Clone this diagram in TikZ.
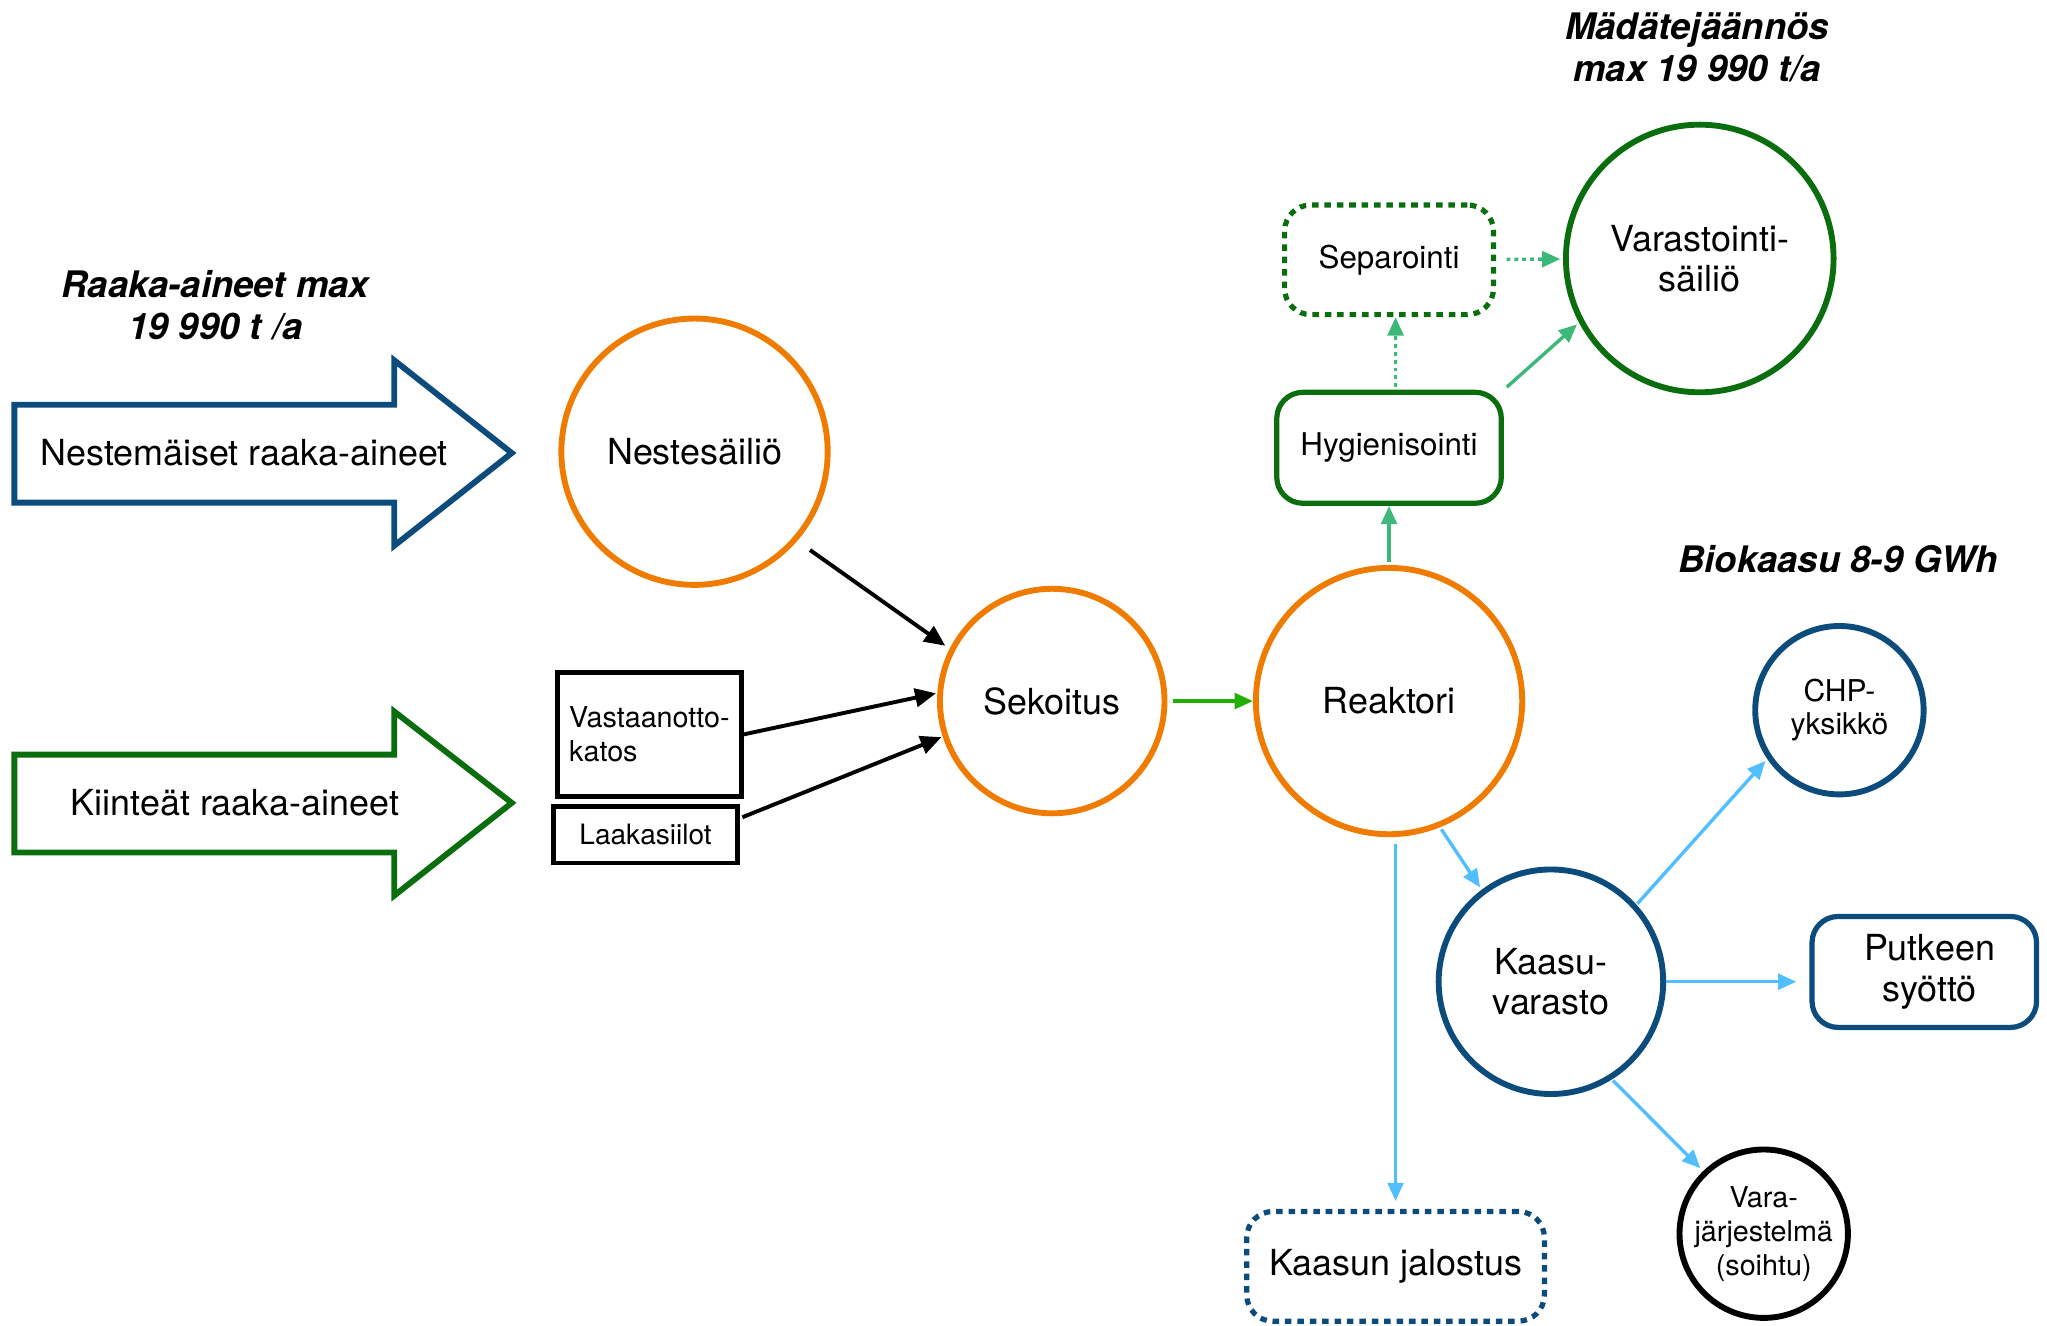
\documentclass[tikz,border=0pt]{standalone}
\usepackage{fontspec}
\setmainfont{TeX Gyre Heros}
\usetikzlibrary{arrows.meta,calc}
\definecolor{orng}{RGB}{239,124,0}
\definecolor{dblue}{RGB}{12,76,125}
\definecolor{dgreen}{RGB}{10,110,15}
\definecolor{bgreen}{RGB}{34,176,0}
\definecolor{mgreen}{RGB}{60,184,120}
\definecolor{lblue}{RGB}{80,190,255}
\begin{document}
\begin{tikzpicture}[x=1pt,y=-1pt,
  big/.style={font=\fontsize{27.5}{31}\selectfont},
  small/.style={font=\fontsize{23}{26}\selectfont},
  ttl/.style={font=\fontsize{28}{32}\selectfont\bfseries\itshape, align=center},
  circ/.style={circle, line width=4.5pt, inner sep=0pt, align=center, big},
  rbox/.style={rectangle, rounded corners=20pt, line width=4pt, align=center, inner sep=0pt, big},
  sbox/.style={rectangle, draw=black, line width=3.6pt, inner sep=0pt, small},
  dotb/.style={dash pattern=on 5pt off 4.5pt},
  blk/.style={line width=3pt, -{Triangle[length=16pt,width=14pt]}},
  carr/.style={line width=2.6pt, -{Triangle[length=14pt,width=12pt]}},
  garr/.style={carr, draw=bgreen, -{Triangle[length=14pt,width=12pt,fill=bgreen]}},
  marr/.style={carr, draw=mgreen},
  barr/.style={carr, draw=lblue},
  dotl/.style={dash pattern=on 3pt off 3pt}
]
\useasboundingbox (0,0) rectangle (1568,1015);

% big input arrows
\draw[dblue, line width=4.5pt, line join=miter]
  (11,310) -- (302,310) -- (302,276) -- (392,347) -- (302,418) -- (302,385) -- (11,385) -- cycle;
\node[big] (nestetxt) at (187,347) {Nestemäiset raaka-aineet};
\draw[dgreen, line width=4.5pt, line join=miter]
  (11,578) -- (302,578) -- (302,545) -- (392,615) -- (302,686) -- (302,653) -- (11,653) -- cycle;
\node[big] (kiintxt) at (180,615) {Kiinteät raaka-aineet};

% titles
\node[ttl] (t1) at (165,234) {Raaka-aineet max\\19 990 t /a};
\node[ttl] (t2) at (1300,36) {Mädätejäännös\\max 19 990 t/a};
\node[ttl] (t3) at (1408,428) {Biokaasu 8-9 GWh};

% circles
\node[circ, draw=orng, minimum size=204pt] (nest) at (532,346) {Nestesäiliö};
\node[circ, draw=orng, minimum size=172pt] (sek) at (806,537) {Sekoitus};
\node[circ, draw=orng, minimum size=204pt] (reak) at (1064,537) {Reaktori};
\node[circ, draw=dgreen, minimum size=205pt] (var) at (1302,198) {Varastointi-\\säiliö};
\node[circ, draw=dblue, minimum size=129pt, font=\fontsize{23}{25.5}\selectfont] (chp) at (1409,544) {CHP-\\yksikkö};
\node[circ, draw=dblue, minimum size=172pt] (kaasu) at (1188,752) {Kaasu-\\varasto};
\node[circ, draw=black, minimum size=129pt, font=\fontsize{22}{26}\selectfont] (vara) at (1351,945) {Vara-\\järjestelmä\\(soihtu)};

% boxes
\node[rbox, draw=dgreen, dotb, minimum width=160pt, minimum height=84pt, font=\fontsize{24}{28}\selectfont] (sep) at (1064,199) {Separointi};
\node[rbox, draw=dgreen, minimum width=172pt, minimum height=85pt, font=\fontsize{24}{28}\selectfont] (hyg) at (1064,343) {Hygienisointi};
\node[sbox, minimum width=141pt, minimum height=95pt, text width=123pt, inner xsep=9pt, align=left, font=\fontsize{22}{26}\selectfont] (vast) at (497.5,562.5) {Vastaanotto-\\katos};
\node[sbox, minimum width=141pt, minimum height=43pt, font=\fontsize{21.5}{26}\selectfont] (laak) at (494.5,639.5) {Laakasiilot};
\node[rbox, draw=dblue, minimum width=172pt, minimum height=85pt] (putk) at (1474,744.5) {\hspace*{8pt}Putkeen\\\hspace*{8pt}syöttö};
\node[rbox, draw=dblue, dotb, minimum width=228pt, minimum height=84pt] (jal) at (1069,970) {Kaasun jalostus};

% connectors
\draw[blk, shorten <=12pt, shorten >=4pt] (nest.-41) -- (sek.153);
\draw[blk, shorten >=1pt] (vast.east) -- (sek.176);
\draw[blk, shorten <=2pt, shorten >=1pt] (laak.10) -- (sek.198);
\draw[garr, shorten <=4pt] (sek) -- (reak);
\draw[marr, shorten <=2pt] (reak) -- (hyg);
\draw[marr, dotl, shorten <=2pt] ([xshift=5pt]hyg.north) -- ([xshift=5pt]sep.south);
\draw[marr, dotl, shorten <=8pt, shorten >=2pt] (sep) -- (var);
\draw[marr, shorten <=3pt, shorten >=2pt] (hyg.north east) -- (var.208);
\draw[barr, shorten <=2pt, shorten >=2pt] (reak.-68) -- (kaasu.127);
\draw[barr, shorten <=5pt, shorten >=6pt] (reak.south -| jal.north) -- (jal.north);
\draw[barr, shorten <=1pt, shorten >=2pt] (kaasu.42) -- (chp.214);
\draw[barr, shorten >=10pt] (kaasu.east) -- (kaasu.east -| putk.west);
\draw[barr, shorten <=1pt, shorten >=3pt] (kaasu.-58) -- (vara.134);
\end{tikzpicture}
\end{document}
